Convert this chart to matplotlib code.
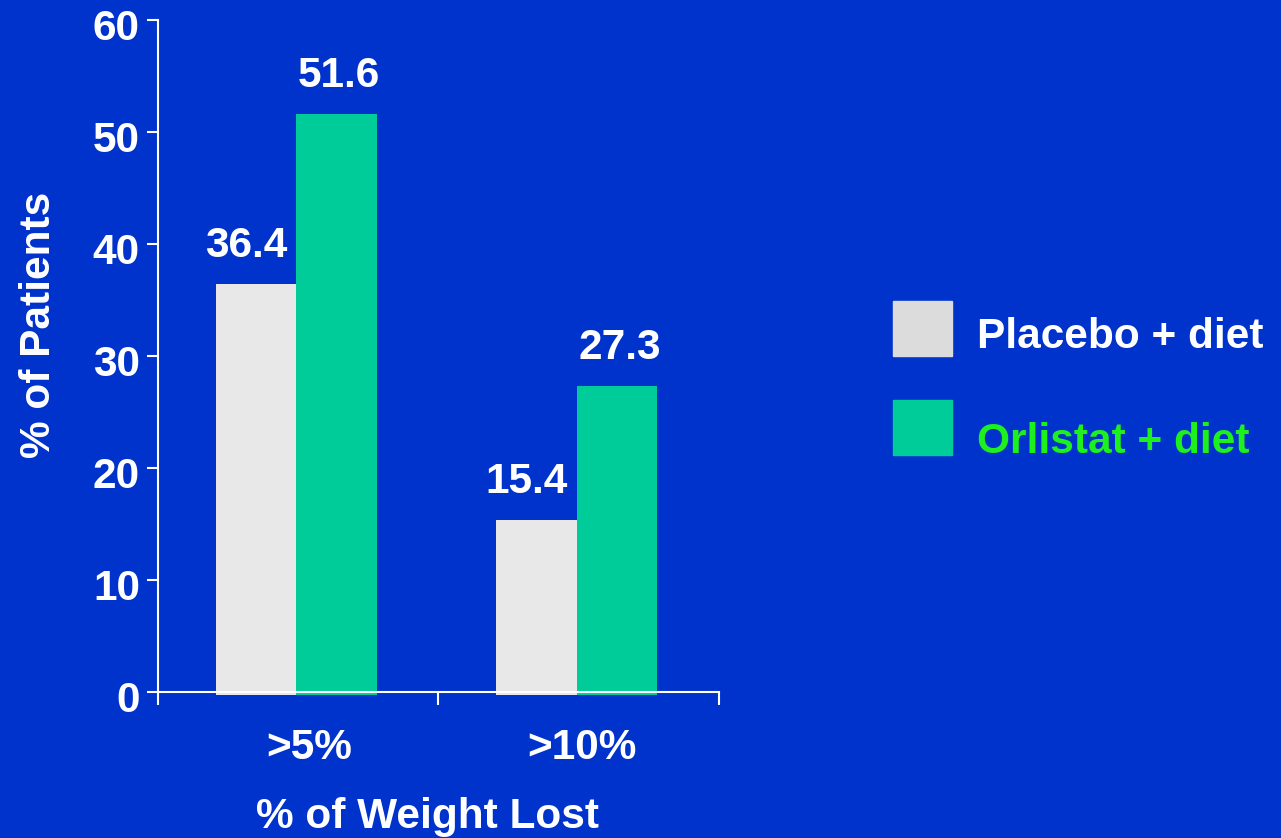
import matplotlib.pyplot as plt
import matplotlib.transforms as mtransforms
import numpy as np

# weight-loss responders, % of patients
groups = ['>5%', '>10%']
series = ['Placebo + diet', 'Orlistat + diet']
placebo = [36.4, 15.4]
orlistat = [51.6, 27.3]
yticks = [0, 10, 20, 30, 40, 50, 60]

bg = '#0033CC'
bar_colors = ['#E8E8E8', '#00CC99']
legend_colors = ['#DCDCDC', '#00CC99']
text_colors = ['white', '#1EF01E']
fs = 30.5

plt.rcParams['font.family'] = ['Liberation Sans', 'DejaVu Sans']
plt.rcParams['font.weight'] = 'bold'

fig = plt.figure(figsize=(12.81, 8.38), dpi=100, facecolor=bg)
ax = fig.add_axes([0.1233, 0.1742, 0.4380, 0.8018], facecolor=bg)

x = np.arange(len(groups))
w = 0.287
shift = -0.007
# (values, bar offset, colour, label nudge in points)
for vals, off, col, nudge in [(placebo, -w / 2, bar_colors[0], -7),
                              (orlistat, w / 2, bar_colors[1], 2)]:
    ax.bar(x + off + shift, np.array(vals) + 0.25, width=w, bottom=-0.25,
           color=col, clip_on=False, zorder=2)
    for xi, v in zip(x + off + shift, vals):
        ax.annotate(f'{v:.1f}', (xi, v), xytext=(nudge, 13), textcoords='offset points',
                    ha='center', va='bottom', color='white', fontsize=fs,
                    fontweight='bold')

ax.set_xlim(-0.5, 1.5)
ax.set_ylim(0, 60)

for s in ['top', 'right']:
    ax.spines[s].set_visible(False)
for s in ['left', 'bottom']:
    ax.spines[s].set_color('white')
    ax.spines[s].set_linewidth(1.5)
    ax.spines[s].set_zorder(3)

ax.set_yticks(yticks)
ax.tick_params(axis='y', colors='white', labelsize=fs, length=8, width=1.5, pad=5)
ax.set_xticks([-0.5, 0.5, 1.5])
ax.set_xticklabels([])
ax.tick_params(axis='x', colors='white', length=9.5, width=1.5)
down = mtransforms.ScaledTranslation(0, -3 / 72, fig.dpi_scale_trans)
for yl in ax.get_yticklabels():
    yl.set_fontweight('bold')
    yl.set_transform(yl.get_transform() + down)

# category labels sit between the boundary ticks
for xi, g, dx in zip(x, groups, [0.04, 0.012]):
    ax.text(xi + dx, -5.0, g, ha='center', va='center', color='white',
            fontsize=fs, fontweight='bold', clip_on=False)

fig.text(39 / 1281, 1 - 325 / 838, '% of Patients', rotation=90, ha='center', va='center',
         color='white', fontsize=fs, fontweight='bold')
fig.text(427 / 1281, 1 - 817 / 838, '% of Weight Lost', ha='center', va='center',
         color='white', fontsize=fs, fontweight='bold')

# legend drawn by hand at the right side
for i, (name, pc, tc, ty) in enumerate(zip(series, legend_colors, text_colors, [337, 442])):
    top = 301 + i * 99
    fig.patches.append(plt.Rectangle((893 / 1281, 1 - (top + 55) / 838), 59 / 1281, 55 / 838,
                                     transform=fig.transFigure, color=pc))
    fig.text(977 / 1281, 1 - ty / 838, name, ha='left', va='center',
             color=tc, fontsize=fs, fontweight='bold')

fig.savefig('out.png', dpi=100, facecolor=bg)
